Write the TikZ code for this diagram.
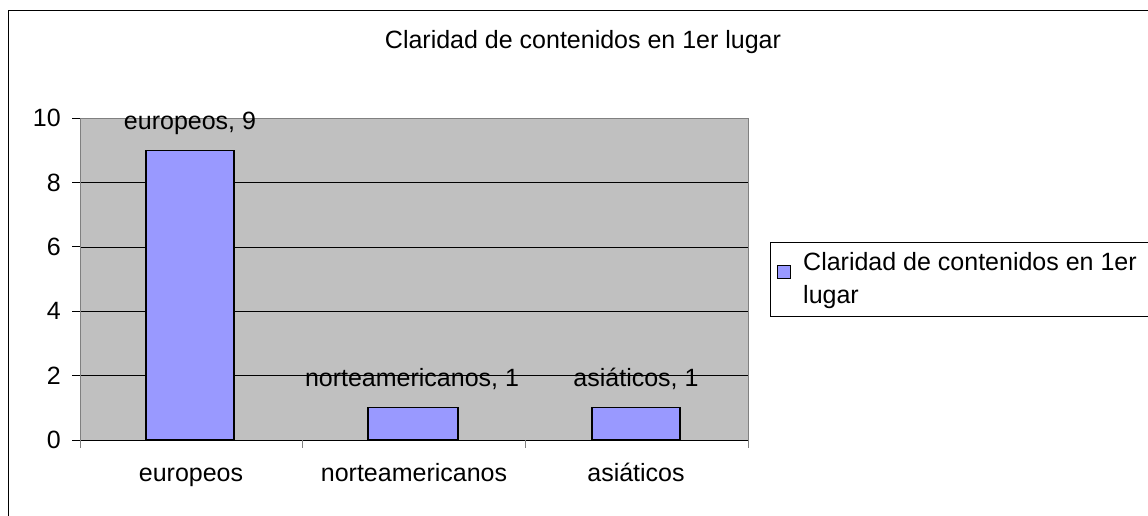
\documentclass[tikz,border=0pt]{standalone}
\usepackage{fontspec}
\setmainfont{Liberation Sans}
\usepackage{tikz}
\usetikzlibrary{shapes}

\definecolor{plotgray}{HTML}{C0C0C0}
\definecolor{barblue}{HTML}{9999FF}
\definecolor{axisgray}{HTML}{808080}

\tikzset{
  lbl/.style={font=\fontsize{25}{30}\selectfont,inner sep=0pt},
  bar/.style={draw=black,line width=1.2pt,fill=barblue},
  grid/.style={draw=black,line width=0.6pt},
  axis/.style={draw=axisgray,line width=1pt}
}

\begin{document}
\begin{tikzpicture}[x=1pt,y=-1pt]

\useasboundingbox (0,0) rectangle (1148,515);

% frame and plot area
\draw [line width=1pt] (8,520) -- (8,10) -- (1160,10);
\fill [plotgray] (80,118) rectangle (748,440);
\foreach \yy in {182.4,246.8,311.2,375.6}
  \draw [grid] (80,\yy) -- (748,\yy);
\draw [axis] (80,118) -- (748,118) -- (748,440);
\draw [axis] (80,118) -- (80,440);
\draw [line width=0.8pt] (80,440) -- (748,440);

% ticks
\foreach \yy in {118,182.4,246.8,311.2,375.6,440}
  \draw [line width=0.8pt] (72,\yy) -- (80,\yy);
\foreach \xx in {80,302.7,525.3,748}
  \draw [axis] (\xx,440) -- (\xx,448);

\node (Y0)  at (61,440)   [lbl,anchor=east] {0};
\node (Y2)  at (61,375.6) [lbl,anchor=east] {2};
\node (Y4)  at (61,311.2) [lbl,anchor=east] {4};
\node (Y6)  at (61,246.8) [lbl,anchor=east] {6};
\node (Y8)  at (61,182.4) [lbl,anchor=east] {8};
\node (Y10) at (61,118)   [lbl,anchor=east] {10};

% bars
\draw [bar] (146,440) rectangle (234,150.2);
\draw [bar] (368,440) rectangle (458,407.8);
\draw [bar] (592,440) rectangle (680,407.8);

\node (L1) at (190,129) [lbl,anchor=base] {europeos, 9};
\node (L2) at (412,386) [lbl,anchor=base] {norteamericanos, 1};
\node (L3) at (636,386) [lbl,anchor=base] {asiáticos, 1};

\node (C1) at (191,481) [lbl,anchor=base] {europeos};
\node (C2) at (414,481) [lbl,anchor=base] {norteamericanos};
\node (C3) at (636,481) [lbl,anchor=base] {asiáticos};

\node (T) at (583,48) [lbl,anchor=base] {Claridad de contenidos en 1er lugar};

% legend
\draw [line width=0.8pt] (1160,242) -- (770,242) -- (770,316) -- (1160,316);
\draw [fill=barblue,line width=0.8pt] (777,265) rectangle (790,278);
\node (K1) at (803,270) [lbl,anchor=base west] {Claridad de contenidos en 1er};
\node (K2) at (803,303) [lbl,anchor=base west] {lugar};

\end{tikzpicture}
\end{document}
